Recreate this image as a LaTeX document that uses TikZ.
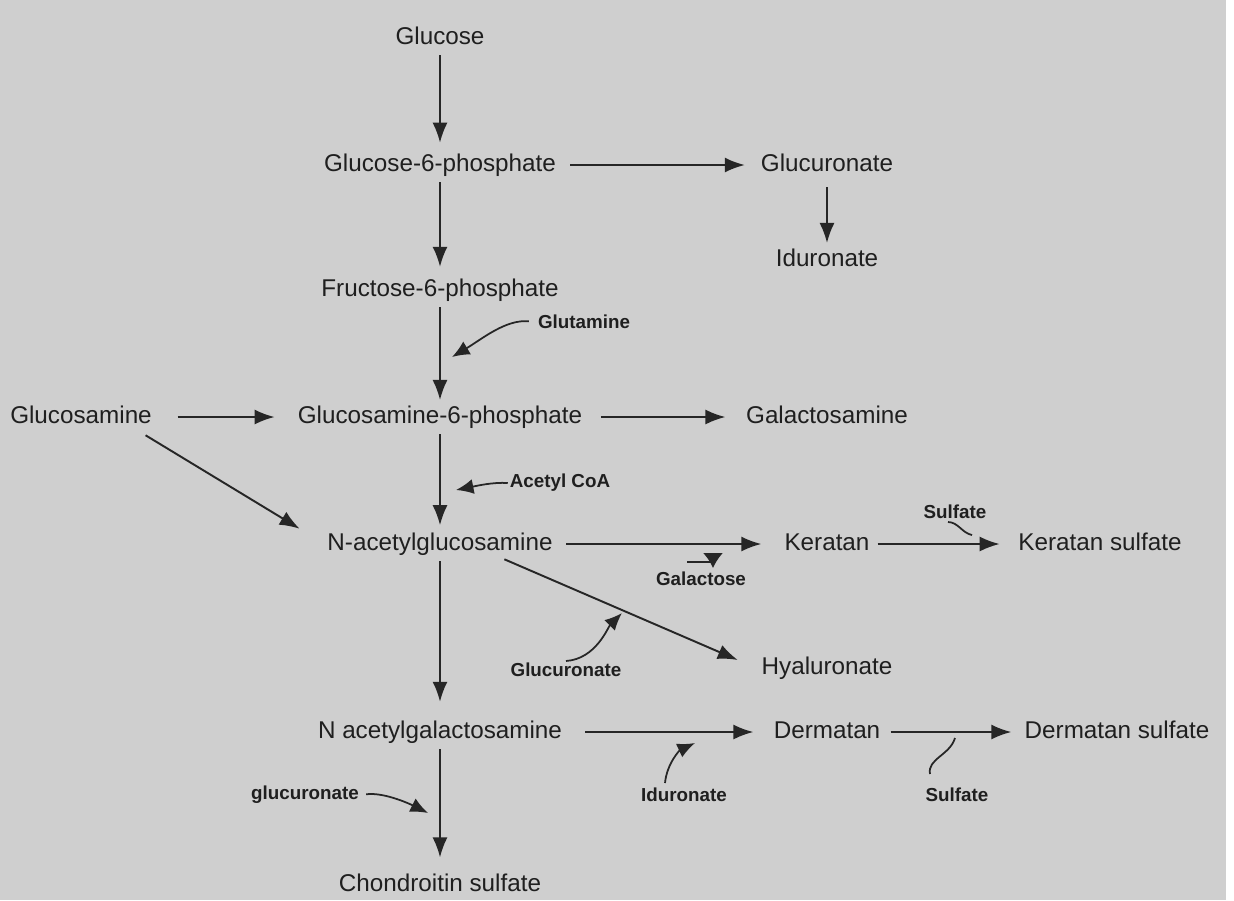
\documentclass[tikz,border=0pt]{standalone}
\usepackage{fontspec}
\setmainfont{Liberation Sans}
\usetikzlibrary{arrows.meta}

\begin{document}
\begin{tikzpicture}
  [
    x=0.02cm, y=-0.02cm,
    >={Latex[length=4mm,width=3mm]},
    chem/.style  = {inner sep=2pt, text=black!88, text height=10pt, text depth=3pt, font=\fontsize{13.8}{16}\selectfont},
    agent/.style = {inner sep=1pt, text=black!88, font=\fontsize{10.7}{12}\selectfont\bfseries},
    flow/.style  = {->, draw=black!85, line width=1.1pt},
    hook/.style  = {-{Latex[length=3.5mm,width=3mm]}, draw=black!85, line width=1pt},
    squig/.style = {draw=black!85, line width=1pt},
  ]

%Scanned page
\fill[black!19] (0,0) rectangle (1226,900);
\useasboundingbox (0,0) rectangle (1234,900);

%Columns
\def \colA{440}
\def \colB{827}

%Main column
\foreach \nm/\yy/\txt in {glc/38/Glucose, g6p/165/Glucose-6-phosphate, f6p/290/Fructose-6-phosphate,
                          gn6p/417/Glucosamine-6-phosphate, nag/544/N-acetylglucosamine,
                          ngal/732/N acetylgalactosamine, chs/885/Chondroitin sulfate}
{
\node[chem] (\nm) at (\colA,\yy) {\txt};
}

%Right column
\node[chem] (glcA) at (\colB,165) {Glucuronate};
\node[chem] (idoA) at (\colB,260) {Iduronate};
\node[chem] (galN) at (\colB,417) {Galactosamine};
\node[chem] (ker)  at (\colB,544) {Keratan};
\node[chem] (hya)  at (\colB,668) {Hyaluronate};
\node[chem] (der)  at (\colB,732) {Dermatan};

%Outer nodes
\node[chem] (glcN) at (81,417)   {Glucosamine};
\node[chem] (kerS) at (1100,544) {Keratan sulfate};
\node[chem] (derS) at (1117,732) {Dermatan sulfate};

%Small labels
\node[agent] (glut)  at (584,322) {Glutamine};
\node[agent] (acoa)  at (560,483) {Acetyl CoA};
\node[agent] (gal)   at (701,579) {Galactose};
\node[agent] (sulK)  at (955,512) {Sulfate};
\node[agent] (glcAm) at (566,670) {Glucuronate};
\node[agent] (idoAm) at (684,795) {Iduronate};
\node[agent] (sulD)  at (957,795) {Sulfate};
\node[agent] (glcAl) at (305,795) {glucuronate};

%Main column arrows
\foreach \a/\b/\gap in {glc/g6p/4pt, g6p/f6p/4.5pt, f6p/gn6p/1pt, gn6p/nag/2pt, nag/ngal/8.5pt, ngal/chs/7pt}
{
\draw[flow, shorten <=1pt, shorten >=\gap] (\a) -- (\b);
}
\draw[flow, shorten <=4pt, shorten >=1pt] (glcA) -- (idoA);

%Side arrows
\draw[flow, shorten <=6pt, shorten >=7pt]       (g6p)  -- (glcA);
\draw[flow, shorten <=12.5pt, shorten >=11pt]   (glcN) -- (gn6p);
\draw[flow, shorten <=8.5pt, shorten >=9.6pt]   (gn6p) -- (galN);
\draw[flow, shorten <=5.5pt, shorten >=11pt]    (nag)  -- (ker);
\draw[flow, shorten <=2.5pt, shorten >=8.5pt]   (ker)  -- (kerS);
\draw[flow, shorten <=11pt, shorten >=9.4pt]    (ngal) -- (der);
\draw[flow, shorten <=3.7pt, shorten >=5.4pt]   (der)  -- (derS);
\draw[flow] ([shift={(-10,3)}]glcN.south east) -- ([shift={(-24,0)}]nag.north west);
\draw[flow] ([shift={(-52,0)}]nag.south east)  -- ([shift={(-20,-8)}]hya.west);

%Tips of the small arrows
\coordinate (glutTip)  at (452,357);
\coordinate (acoaTip)  at (456,490);
\coordinate (galTip)   at (713,568);
\coordinate (glcAmTip) at (622,613);
\coordinate (idoAmTip) at (695,743);
\coordinate (glcAlTip) at (428,813);
\coordinate (sulKEnd)  at (972,535);
\coordinate (sulDEnd)  at (955,738);

\draw[hook, shorten <=4pt] (glut.west) .. controls +(-30,-3) and +(30,-18) .. (glutTip);
\draw[hook] (acoa.west) .. controls +(-15,-1) and +(20,-4) .. (acoaTip);
\draw[hook, -{Latex[length=3mm,width=4mm]}] ([shift={(-14,-8)}]gal.north) -| (galTip);
\draw[hook] (glcAm.north) .. controls +(30,-2) and +(-14,14) .. (glcAmTip);
\draw[hook] ([shift={(-19,-3)}]idoAm.north) .. controls +(2,-20) and +(-15,7) .. (idoAmTip);
\draw[hook, shorten <=3pt] (glcAl.east) .. controls +(22,-3) and +(-20,-10) .. (glcAlTip);
\draw[squig] ([shift={(-7,1)}]sulK.south) .. controls +(10,0) and +(-10,-2) .. (sulKEnd);
\draw[squig] ([shift={(-27,-12)}]sulD.north) .. controls +(-3,-15) and +(-5,17) .. (sulDEnd);
\end{tikzpicture}
\end{document}
